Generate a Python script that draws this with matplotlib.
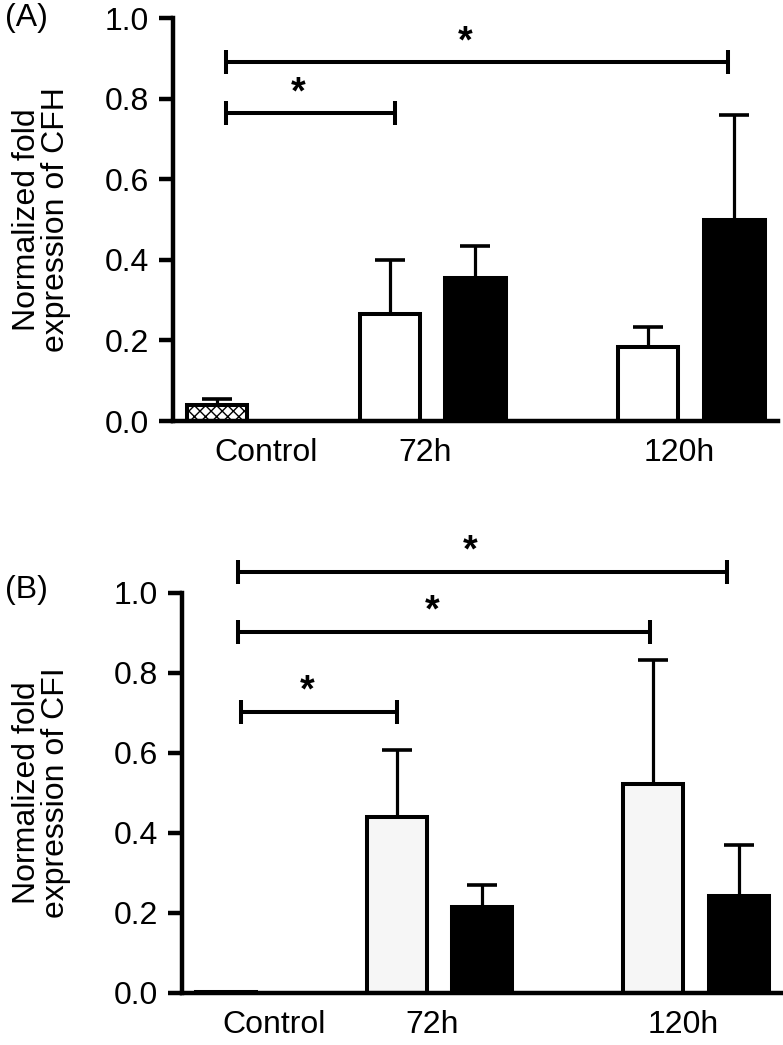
import numpy as np
import matplotlib.pyplot as plt

plt.rcParams['font.family'] = ['Liberation Sans', 'DejaVu Sans']

# data
groups = ['Control', '72h', '120h']

cfh_vals = [0.04, 0.265, 0.354, 0.184, 0.50]
cfh_err = [0.015, 0.135, 0.08, 0.05, 0.26]

cfi_vals = [0.003, 0.44, 0.216, 0.522, 0.2425]
cfi_err = [0.0, 0.167, 0.054, 0.31, 0.1275]

# significance brackets: (x start, x end, height)
cfh_sig = [(0.876, 9.17, 0.89), (0.876, 3.67, 0.764)]
cfi_sig = [(0.93, 9.08, 1.0525), (0.93, 7.8, 0.9025), (0.98, 3.59, 0.7025)]

pos = [0.73, 3.59, 5.0, 7.85, 9.28]
tick_pos = [1.54, 4.17, 8.36]

LW = 2.9
FS = 23


def draw_panel(ax, vals, err, sig, white, ylabel, label_x):
    faces = ['white', white, 'black', white, 'black']
    for i in range(len(vals)):
        ax.bar(pos[i], vals[i], width=1.0, color=faces[i], edgecolor='black',
               linewidth=LW, zorder=2)
        if err[i] > 0:
            ax.errorbar(pos[i], vals[i], yerr=[[0], [err[i]]], fmt='none',
                        ecolor='black', elinewidth=2.3, capsize=10.5,
                        capthick=2.6, zorder=1)
    for x0, x1, h in sig:
        ax.plot([x0, x1], [h, h], color='black', lw=LW, clip_on=False,
                solid_capstyle='butt')
        for xe in (x0, x1):
            ax.plot([xe, xe], [h - 0.03, h + 0.03], color='black', lw=LW,
                    clip_on=False, solid_capstyle='butt')
        ax.text((x0 + x1) / 2 - 0.2, h + 0.05, '*', ha='center',
                va='center', fontsize=27, fontweight='bold', clip_on=False)

    ax.set_xlim(0, 10)
    ax.set_ylim(0, 1.0)
    ax.set_yticks(np.arange(0, 1.01, 0.2))
    ax.set_yticklabels(['%.1f' % v for v in np.arange(0, 1.01, 0.2)])
    ax.set_xticks(tick_pos)
    ax.set_xticklabels(groups)
    ax.spines['top'].set_visible(False)
    ax.spines['right'].set_visible(False)
    ax.spines['left'].set_linewidth(3.2)
    ax.spines['bottom'].set_linewidth(3.2)
    ax.tick_params(axis='y', length=10, width=3.2, labelsize=FS, pad=7)
    ax.tick_params(axis='x', length=0, labelsize=FS, pad=12)
    ax.set_ylabel(ylabel, fontsize=FS, linespacing=0.95)
    ax.yaxis.set_label_coords(label_x, 0.5)


fig = plt.figure(figsize=(7.83, 10.45), dpi=100)
ax1 = fig.add_axes([0.2209, 0.5971, 0.7727, 0.3856])
ax2 = fig.add_axes([0.2324, 0.0498, 0.7660, 0.3828])

draw_panel(ax1, cfh_vals, cfh_err, cfh_sig, 'white',
           'Normalized fold\nexpression of CFH', -0.168)
draw_panel(ax2, cfi_vals, cfi_err, cfi_sig, '#f6f6f6',
           'Normalized fold\nexpression of CFI', -0.185)

fig.text(0.006, 0.983, '(A)', fontsize=FS, ha='left', va='center')
fig.text(0.006, 0.435, '(B)', fontsize=FS, ha='left', va='center')

# checkered control bar in panel A
ax1.patches[0].set_hatch('xxx')

fig.savefig('out.png', dpi=100)
